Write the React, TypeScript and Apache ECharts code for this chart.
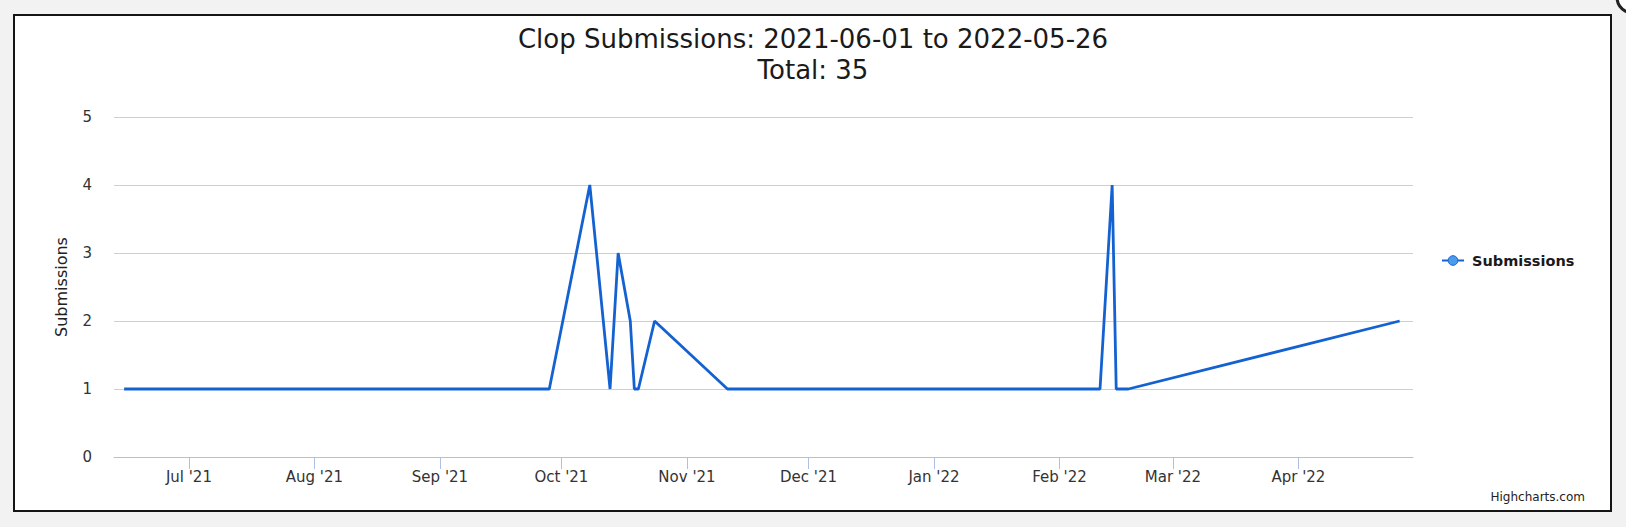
import React, { useEffect, useRef } from "react";
import * as echarts from "echarts";

const titleText = "Clop Submissions: 2021-06-01 to 2022-05-26";
const subtitleText = "Total: 35";
const seriesName = "Submissions";

const dates = [
  "2021-06-15", "2021-09-28", "2021-10-08", "2021-10-13", "2021-10-15",
  "2021-10-18", "2021-10-19", "2021-10-20", "2021-10-24", "2021-11-11",
  "2022-02-11", "2022-02-14", "2022-02-15", "2022-02-18", "2022-04-26",
];
const values = [1, 1, 4, 1, 3, 2, 1, 1, 2, 1, 1, 4, 1, 1, 2];

const tickDates = [
  "2021-07-01", "2021-08-01", "2021-09-01", "2021-10-01", "2021-11-01",
  "2021-12-01", "2022-01-01", "2022-02-01", "2022-03-01", "2022-04-01",
];
const tickLabels = [
  "Jul '21", "Aug '21", "Sep '21", "Oct '21", "Nov '21",
  "Dec '21", "Jan '22", "Feb '22", "Mar '22", "Apr '22",
];

const ts = (s: string, h = 0) => {
  const [y, m, d] = s.split("-").map(Number);
  return Date.UTC(y, m - 1, d, h);
};

const FONT = "DejaVu Sans";

export default function App() {
  const ref = useRef<HTMLDivElement>(null);
  useEffect(() => {
    if (!ref.current) return;
    const chart = echarts.init(ref.current, null, { renderer: "svg" });
    const tickTs = tickDates.map((d) => ts(d));
    const labelFor = (v: number) => {
      let best = 0;
      let bd = Infinity;
      tickTs.forEach((t, i) => {
        const dd = Math.abs(t - v);
        if (dd < bd) {
          bd = dd;
          best = i;
        }
      });
      return bd < 3600000 ? tickLabels[best] : "";
    };
    chart.setOption({
      animation: false,
      backgroundColor: "#f2f2f2",
      textStyle: { fontFamily: FONT },
      graphic: [
        {
          type: "rect",
          z: -10,
          silent: true,
          shape: { x: 14, y: 15, width: 1597, height: 496 },
          style: { fill: "#ffffff", stroke: "#151515", lineWidth: 2 },
        },
        {
          type: "circle",
          z: -10,
          silent: true,
          shape: { cx: 1633, cy: -3, r: 16 },
          style: { fill: "#ffffff", stroke: "#222222", lineWidth: 3 },
        },
        {
          type: "text",
          silent: true,
          x: 1585,
          y: 497,
          style: {
            text: "Highcharts.com",
            fontFamily: FONT,
            fontSize: 12,
            fill: "#222222",
            align: "right",
            verticalAlign: "middle",
          },
        },
      ],
      title: {
        text: titleText + "\n" + subtitleText,
        left: "center",
        top: 23,
        padding: 0,
        textStyle: {
          fontFamily: FONT,
          fontSize: 26,
          lineHeight: 31,
          fontWeight: "normal",
          color: "#1a1a1a",
        },
      },
      legend: {
        orient: "vertical",
        left: 1441,
        top: 253,
        padding: 0,
        itemWidth: 22,
        itemHeight: 12,
        data: [seriesName],
        itemStyle: { color: "#4b9bea", borderColor: "#1a62cf", borderWidth: 1 },
        textStyle: {
          fontFamily: FONT,
          fontSize: 14.5,
          fontWeight: "bold",
          color: "#1a1a1a",
          padding: [0, 0, 0, 3],
        },
      },
      grid: { left: 114, right: 213, top: 117, bottom: 70, containLabel: false },
      xAxis: {
        type: "value",
        min: ts("2021-06-12", 12),
        max: ts("2022-04-29", 7),
        axisLine: { show: true, lineStyle: { color: "#aec0e6", width: 1 } },
        axisTick: {
          show: true,
          length: 12,
          customValues: tickTs,
          lineStyle: { color: "#aec0e6", width: 1 },
        },
        axisLabel: {
          customValues: tickTs,
          margin: 12,
          fontFamily: FONT,
          fontSize: 15,
          color: "#333333",
          hideOverlap: false,
          formatter: (v: number) => labelFor(v),
        },
        splitLine: { show: false },
      },
      yAxis: {
        type: "value",
        min: 0,
        max: 5,
        interval: 1,
        name: "Submissions",
        nameLocation: "middle",
        nameRotate: 90,
        nameGap: 45,
        nameTextStyle: { fontFamily: FONT, fontSize: 16, color: "#222222" },
        axisLine: { show: false },
        axisTick: { show: false },
        axisLabel: {
          margin: 22,
          fontFamily: FONT,
          fontSize: 15,
          color: "#333333",
        },
        splitLine: { show: true, lineStyle: { color: "#cfcfcf", width: 1 } },
      },
      series: [
        {
          name: seriesName,
          type: "line",
          data: dates.map((d, i) => [ts(d), values[i]]),
          showSymbol: false,
          symbol: "circle",
          lineStyle: { color: "#1462d2", width: 2.8 },
          itemStyle: { color: "#1462d2" },
        },
      ],
    });
    return () => chart.dispose();
  }, []);
  return (
    <div
      ref={ref}
      style={{ position: "absolute", left: 0, top: 0, width: 1626, height: 527 }}
    />
  );
}
